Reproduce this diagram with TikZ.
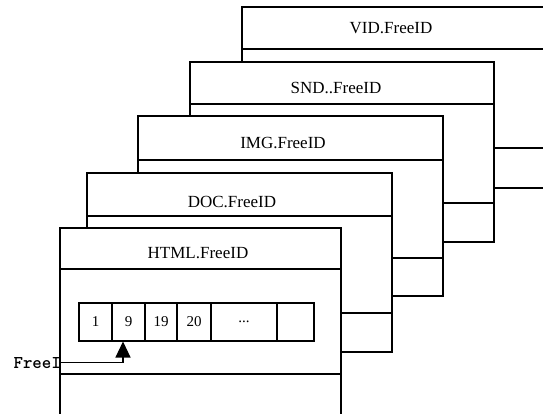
\documentclass[tikz,border=0pt]{standalone}
\usepackage{fontspec}
\setmainfont{Liberation Serif}
\usetikzlibrary{arrows.meta}
% #1 left, #2 top, #3 right, #4 header rule, #5 inner rule, #6 bottom
\newcommand\fidcard[6]{%
  \filldraw[card] (#1,#2) rectangle (#3,#6);
  \draw[rule] (#1,#4) -- (#3,#4) (#1,#5) -- (#3,#5);}
\begin{document}
\begin{tikzpicture}[x=1pt,y=-1pt,
  card/.style={draw=black, fill=white, line width=1.2pt},
  rule/.style={line width=1.2pt},
  title/.style={font=\fontsize{17}{20}\selectfont, inner sep=0pt, anchor=base},
  cell/.style={draw, line width=1.2pt, minimum height=38pt, inner sep=0pt,
    outer sep=0pt, font=\fontsize{15}{17}\selectfont},
  ptr/.style={line width=1.2pt, -{Triangle[width=15pt,length=16pt]}}]
\useasboundingbox (0,0) rectangle (543,413);
\clip (0,0) rectangle (543,413);

% stacked free-ID tables, back to front
\fidcard{242}{7}{560}{49}{148}{188}
\node[title] (vid) at (391,33) {VID.FreeID};
\fidcard{190}{62}{494}{104}{203}{242}
\node[title] (snd) at (336,93) {SND..FreeID};
\fidcard{138}{116}{443}{160}{258}{296}
\node[title] (img) at (283,148) {IMG.FreeID};
\fidcard{87}{173}{392}{216}{313}{352}
\node[title] (doc) at (232,207) {DOC.FreeID};
\fidcard{60}{228}{341}{269}{374}{440}
\node[title] (html) at (198,258) {HTML.FreeID};

% free-ID array of the front table
\node[cell, minimum width=33pt] (c1) at (95.5,322) {1};
\node[cell, minimum width=33pt] (c2) at (128.5,322) {9};
\node[cell, minimum width=32pt] (c3) at (161,322) {19};
\node[cell, minimum width=34pt] (c4) at (194,322) {20};
\node[cell, minimum width=66pt] (c5) at (244,322) {...};
\node[cell, minimum width=37pt] (c6) at (295.5,322) {};

% pointer to the next free entry
\node[font=\ttfamily\bfseries\fontsize{18}{20}\selectfont, anchor=base east,
  inner sep=0pt] (free) at (61,368) {FreeI};
\coordinate (tip) at (123,341.5);
\draw[ptr] (free.east) -| (tip);
\end{tikzpicture}
\end{document}
